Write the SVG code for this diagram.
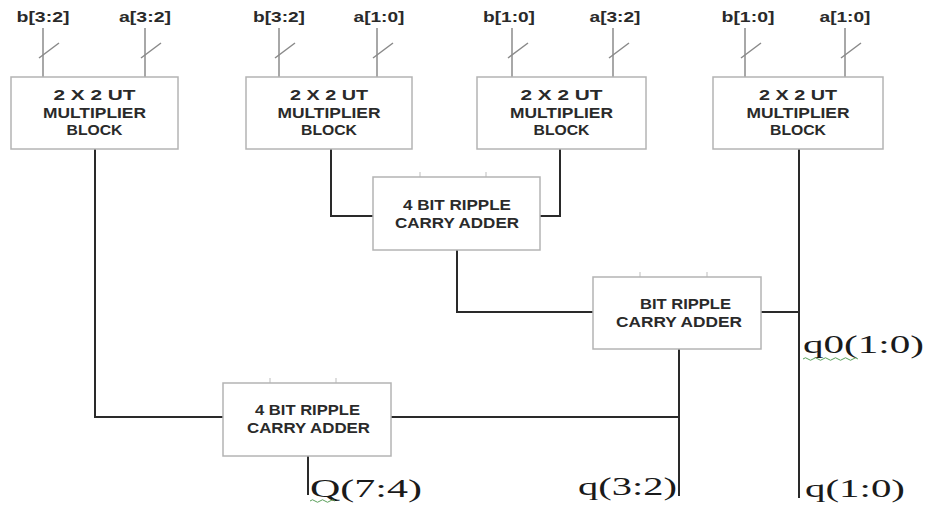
<svg xmlns="http://www.w3.org/2000/svg" width="926" height="508" viewBox="0 0 926 508">
<style>
.box{fill:#fff;stroke:#b4b4b4;stroke-width:1.5}
.bt{font-family:"Liberation Sans",Arial,sans-serif;font-weight:bold;font-size:15px;fill:#2a2a2a;text-anchor:middle}
.at{font-family:"Liberation Sans",Arial,sans-serif;font-weight:bold;font-size:14px;fill:#2a2a2a;text-anchor:middle}
.lab{font-family:"Liberation Sans",Arial,sans-serif;font-weight:bold;font-size:14px;fill:#2a2a2a;text-anchor:middle}
.in{stroke:#a8a8a8;stroke-width:2;fill:none}
.sl{stroke:#8a8a8a;stroke-width:1.5;fill:none}
.tick{stroke:#c8c8c8;stroke-width:1.2}
.wire{stroke:#2a2a2a;stroke-width:2;fill:none}
.out{font-family:"Liberation Serif","Times New Roman",serif;font-size:26px;fill:#1a1a1a}
.wavy{stroke:#5aa05a;stroke-width:1;fill:none}
</style>
<g id="connectors">
<path class="wire" d="M95 149 V417 H223"/>
<path class="wire" d="M331 149 V216 H373"/>
<path class="wire" d="M560 149 V216 H540"/>
<path class="wire" d="M457 250 V312 H593"/>
<path class="wire" d="M761 312 H799"/>
<path class="wire" d="M799 149 V498"/>
<path class="wire" d="M391 417 H679"/>
<path class="wire" d="M679 349 V496"/>
<path class="wire" d="M308 456 V495"/>
</g>
<g id="mult1">
<text class="lab" x="43" y="22" textLength="53" lengthAdjust="spacingAndGlyphs">b[3:2]</text>
<text class="lab" x="145" y="22" textLength="52" lengthAdjust="spacingAndGlyphs">a[3:2]</text>
<path class="in" d="M43 28 V77 M145 28 V77"/>
<path class="sl" d="M39 58 L59 43 M141 58 L161 43"/>
<rect class="box" x="11" y="77" width="167" height="72"/>
<text class="bt" x="94.5" y="100" textLength="82" lengthAdjust="spacingAndGlyphs">2 X 2  UT</text>
<text class="bt" x="94.5" y="118" textLength="103" lengthAdjust="spacingAndGlyphs">MULTIPLIER</text>
<text class="bt" x="94.5" y="135" textLength="56" lengthAdjust="spacingAndGlyphs">BLOCK</text>
</g>
<g id="mult2">
<text class="lab" x="279" y="22" textLength="52" lengthAdjust="spacingAndGlyphs">b[3:2]</text>
<text class="lab" x="379" y="22" textLength="51" lengthAdjust="spacingAndGlyphs">a[1:0]</text>
<path class="in" d="M279 28 V77 M377 28 V77"/>
<path class="sl" d="M275 58 L295 43 M373 58 L393 43"/>
<rect class="box" x="246" y="77" width="166" height="72"/>
<text class="bt" x="329" y="100" textLength="78" lengthAdjust="spacingAndGlyphs">2 X 2 UT</text>
<text class="bt" x="329" y="118" textLength="103" lengthAdjust="spacingAndGlyphs">MULTIPLIER</text>
<text class="bt" x="329" y="135" textLength="56" lengthAdjust="spacingAndGlyphs">BLOCK</text>
</g>
<g id="mult3">
<text class="lab" x="509" y="22" textLength="52" lengthAdjust="spacingAndGlyphs">b[1:0]</text>
<text class="lab" x="615" y="22" textLength="51" lengthAdjust="spacingAndGlyphs">a[3:2]</text>
<path class="in" d="M512 28 V77 M613 28 V77"/>
<path class="sl" d="M508 58 L528 43 M609 58 L629 43"/>
<rect class="box" x="477" y="77" width="169" height="72"/>
<text class="bt" x="561.5" y="100" textLength="82" lengthAdjust="spacingAndGlyphs">2 X 2  UT</text>
<text class="bt" x="561.5" y="118" textLength="103" lengthAdjust="spacingAndGlyphs">MULTIPLIER</text>
<text class="bt" x="561.5" y="135" textLength="56" lengthAdjust="spacingAndGlyphs">BLOCK</text>
</g>
<g id="mult4">
<text class="lab" x="748" y="22" textLength="53" lengthAdjust="spacingAndGlyphs">b[1:0]</text>
<text class="lab" x="845" y="22" textLength="51" lengthAdjust="spacingAndGlyphs">a[1:0]</text>
<path class="in" d="M745 28 V77 M845 28 V77"/>
<path class="sl" d="M741 58 L761 43 M841 58 L861 43"/>
<rect class="box" x="713" y="77" width="170" height="72"/>
<text class="bt" x="798" y="100" textLength="78" lengthAdjust="spacingAndGlyphs">2 X 2 UT</text>
<text class="bt" x="798" y="118" textLength="103" lengthAdjust="spacingAndGlyphs">MULTIPLIER</text>
<text class="bt" x="798" y="135" textLength="56" lengthAdjust="spacingAndGlyphs">BLOCK</text>
</g>
<g id="adder1">
<path class="tick" d="M420 172 V177 M486 172 V177"/>
<rect class="box" x="373" y="177" width="167" height="73"/>
<text class="at" x="457" y="210" textLength="108" lengthAdjust="spacingAndGlyphs">4 BIT RIPPLE</text>
<text class="at" x="457" y="228" textLength="124" lengthAdjust="spacingAndGlyphs">CARRY ADDER</text>
</g>
<g id="adder2">
<path class="tick" d="M640 272 V277 M707 272 V277"/>
<rect class="box" x="593" y="277" width="168" height="72"/>
<text class="at" x="685.5" y="309" textLength="91" lengthAdjust="spacingAndGlyphs">BIT RIPPLE</text>
<text class="at" x="679" y="327" textLength="126" lengthAdjust="spacingAndGlyphs">CARRY ADDER</text>
</g>
<g id="adder3">
<path class="tick" d="M270 378 V383 M336 378 V383"/>
<rect class="box" x="223" y="383" width="168" height="73"/>
<text class="at" x="307.5" y="415" textLength="105" lengthAdjust="spacingAndGlyphs">4 BIT RIPPLE</text>
<text class="at" x="308.5" y="433" textLength="123" lengthAdjust="spacingAndGlyphs">CARRY ADDER</text>
</g>
<g id="outputs">
<text class="out" x="803" y="353" textLength="121" lengthAdjust="spacingAndGlyphs">q0(1:0)</text>
<path class="wavy" d="M803 359 q2.5 -2.5 5 0 t5 0 t5 0 t5 0 t5 0 t5 0 t5 0 t5 0 t5 0 t5 0 t5 0"/>
<text class="out" x="310" y="497" textLength="112" lengthAdjust="spacingAndGlyphs">Q(7:4)</text>
<path class="wavy" d="M310 501 q2.5 -2.5 5 0 t5 0 t5 0 t5 0 t5 0"/>
<text class="out" x="578" y="495" textLength="99" lengthAdjust="spacingAndGlyphs">q(3:2)</text>
<text class="out" x="805" y="497" textLength="100" lengthAdjust="spacingAndGlyphs">q(1:0)</text>
</g>
</svg>
